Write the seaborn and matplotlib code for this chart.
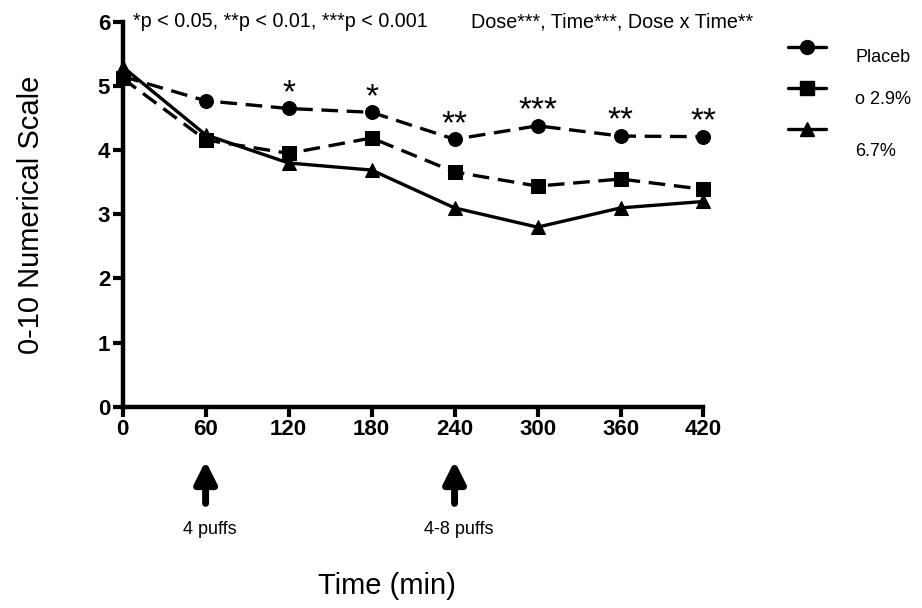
import numpy as np
import pandas as pd
import seaborn as sns
import matplotlib.pyplot as plt
from matplotlib.lines import Line2D

# data
times = [0, 60, 120, 180, 240, 300, 360, 420]
placebo = [5.15, 4.77, 4.65, 4.59, 4.17, 4.38, 4.22, 4.21]
dose_29 = [5.12, 4.16, 3.95, 4.19, 3.66, 3.44, 3.55, 3.39]
dose_67 = [5.30, 4.24, 3.80, 3.69, 3.10, 2.80, 3.10, 3.20]
stars = ['', '', '*', '*', '**', '***', '**', '**']
legend_labels = ['Placeb', 'o 2.9%', '6.7%']

sns.set_style('ticks')
plt.rcParams['font.family'] = ['Liberation Sans', 'DejaVu Sans']
for k in ['text.color', 'axes.labelcolor', 'xtick.color', 'ytick.color', 'axes.edgecolor']:
    plt.rcParams[k] = 'black'

fig = plt.figure(figsize=(9.22, 6.08), dpi=100)
ax = fig.add_axes([0.133, 0.331, 0.630, 0.633])

lw = 2.4
ms = 10
dash = (5, 2.6)
series = [(placebo, 'o', dash), (dose_29, 's', dash), (dose_67, '^', '')]
for vals, mk, ds in series:
    df = pd.DataFrame({'time': times, 'score': vals})
    sns.lineplot(data=df, x='time', y='score', ax=ax, color='black',
                 marker=mk, markersize=ms, markeredgecolor='black',
                 linewidth=lw, clip_on=False, zorder=3)
    if ds:
        ax.lines[-1].set_dashes(ds)

# significance stars over placebo
for t, v, s in zip(times, placebo, stars):
    if s:
        ax.text(t, v + 0.10, s, ha='center', va='baseline', fontsize=24)

ax.set_xlim(0, 420)
ax.set_ylim(0, 6)
ax.set_xticks(times)
ax.set_yticks(range(7))
for lab in ax.get_xticklabels() + ax.get_yticklabels():
    lab.set_fontweight('bold')
ax.tick_params(axis='both', labelsize=16, width=3, length=7, pad=2)
for sp in ['left', 'bottom']:
    ax.spines[sp].set_linewidth(3.2)
sns.despine(ax=ax)

ax.set_xlabel('Time (min)', fontsize=21, labelpad=95)
ax.xaxis.label.set_x(0.455)
ax.set_ylabel('0-10 Numerical Scale', fontsize=21, labelpad=38)

ax.text(0.018, 1.0, '*p < 0.05, **p < 0.01, ***p < 0.001', transform=ax.transAxes,
        fontsize=14.2, va='center', ha='left')
ax.text(0.600, 1.0, 'Dose***, Time***, Dose x Time**', transform=ax.transAxes,
        fontsize=14.2, va='center', ha='left')

# dosing arrows below the axis
for t, txt in [(60, '4 puffs'), (240, '4-8 puffs')]:
    ax.annotate('', xy=(t, -0.80), xytext=(t, -1.55), xycoords='data',
                annotation_clip=False,
                arrowprops=dict(arrowstyle='-|>,head_length=1.3,head_width=0.65',
                                color='black', lw=5))
    ax.text(t + 3, -1.92, txt, ha='center', va='center', fontsize=13, clip_on=False)

handles = [Line2D([], [], color='black', marker=m, markersize=ms, linewidth=lw)
           for m in ['o', 's', '^']]
leg = ax.legend(handles, legend_labels, loc='upper left', bbox_to_anchor=(1.118, 0.995),
                frameon=False, fontsize=13, handlelength=2.1, labelspacing=1.35,
                handletextpad=1.6)
for txt, dy in zip(leg.get_texts(), [-9, -10, -20]):
    txt.set_y(dy)

fig.savefig('out.png', dpi=100)
